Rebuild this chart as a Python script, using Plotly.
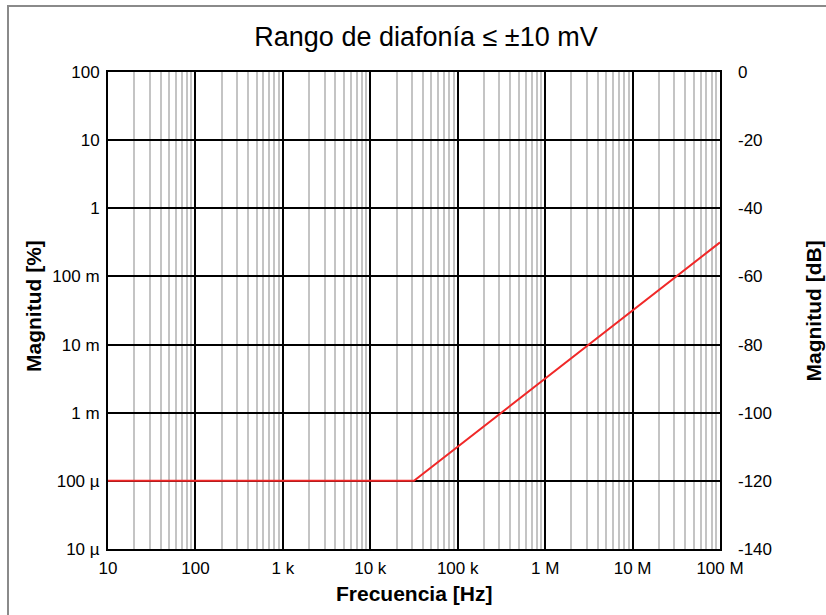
import plotly.graph_objects as go

# Crosstalk magnitude vs. frequency (±10 mV range)
freq_hz = [10, 31623, 1e8]
magnitude_pct = [1e-4, 1e-4, 0.316]
magnitude_db = [-120, -120, -50]

x_tickvals = [10, 100, 1e3, 1e4, 1e5, 1e6, 1e7, 1e8]
x_ticktext = ["10", "100", "1 k", "10 k", "100 k", "1 M", "10 M", "100 M"]
y_tickvals = [1e-5, 1e-4, 1e-3, 1e-2, 1e-1, 1, 10, 100]
y_ticktext = ["10 µ", "100 µ", "1 m", "10 m", "100 m", "1", "10", "100"]
db_tickvals = [-140, -120, -100, -80, -60, -40, -20, 0]
db_ticktext = ["-140", "-120", "-100", "-80", "-60", "-40", "-20", "0"]

FONT = "Liberation Sans, Arial, sans-serif"
W, H = 826, 615
L, R, T, B = 108, 106, 72, 66

x_minor = [m * 10 ** k for k in range(1, 8) for m in range(2, 10)]

fig = go.Figure()
fig.add_trace(go.Scatter(
    x=freq_hz, y=magnitude_pct, mode="lines",
    line=dict(color="#f02828", width=2), showlegend=False, hoverinfo="skip",
))
fig.add_trace(go.Scatter(
    x=freq_hz, y=magnitude_db, yaxis="y2", mode="lines",
    line=dict(color="rgba(0,0,0,0)", width=0), showlegend=False, hoverinfo="skip",
))

pw, ph = W - L - R, H - T - B
def px_x(p):
    return (p - L) / pw
def px_y(p):
    return (H - B - p) / ph

fig.update_layout(
    width=W, height=H,
    margin=dict(l=L, r=R, t=T, b=B),
    paper_bgcolor="white", plot_bgcolor="white",
    font=dict(family=FONT, size=17, color="black"),
    title=dict(text="Rango de diafonía ≤ ±10 mV", x=px_x(426), xanchor="center",
               xref="paper", y=1 - 37 / H, yref="container", yanchor="middle",
               font=dict(size=27, family=FONT, color="black")),
    xaxis=dict(
        type="log", range=[1, 8],
        tickmode="array", tickvals=x_tickvals, ticktext=x_ticktext,
        showgrid=True, gridcolor="black", gridwidth=2,
        minor=dict(tickmode="array", tickvals=x_minor, showgrid=True,
                   gridcolor="#c4c4c4", gridwidth=1.5, ticks=""),
        showline=True, linecolor="black", linewidth=2, mirror=True,
        ticks="", ticklabelstandoff=3, zeroline=False,
        tickfont=dict(size=17),
    ),
    yaxis=dict(
        type="log", range=[-5, 2],
        tickmode="array", tickvals=y_tickvals, ticktext=y_ticktext,
        showgrid=True, gridcolor="black", gridwidth=2,
        showline=True, linecolor="black", linewidth=2, mirror=True,
        ticks="", ticklabelstandoff=3, zeroline=False,
        tickfont=dict(size=17),
    ),
    yaxis2=dict(
        overlaying="y", side="right", range=[-140, 0],
        tickmode="array", tickvals=db_tickvals, ticktext=db_ticktext,
        showgrid=False, zeroline=False, showline=False,
        ticks="", ticklabelstandoff=17,
        tickfont=dict(size=17),
    ),
)

# axis titles
fig.add_annotation(text="<b>Frecuencia [Hz]</b>", xref="paper", yref="paper",
                   x=0.5, y=px_y(593), xanchor="center", yanchor="middle",
                   showarrow=False, font=dict(size=21, family=FONT))
fig.add_annotation(text="<b>Magnitud [%]</b>", xref="paper", yref="paper",
                   x=px_x(33), y=px_y(306), xanchor="center", yanchor="middle",
                   textangle=-90, showarrow=False, font=dict(size=21, family=FONT))
fig.add_annotation(text="<b>Magnitud [dB]</b>", xref="paper", yref="paper",
                   x=px_x(813), y=0.5, xanchor="center", yanchor="middle",
                   textangle=-90, showarrow=False, font=dict(size=21, family=FONT))

# outer grey frame
fig.add_shape(type="rect", xref="paper", yref="paper",
              x0=px_x(8), x1=px_x(840), y0=px_y(630), y1=px_y(6),
              line=dict(color="#8a8a8a", width=2), fillcolor="rgba(0,0,0,0)",
              layer="below")

fig.write_html("out.html")
